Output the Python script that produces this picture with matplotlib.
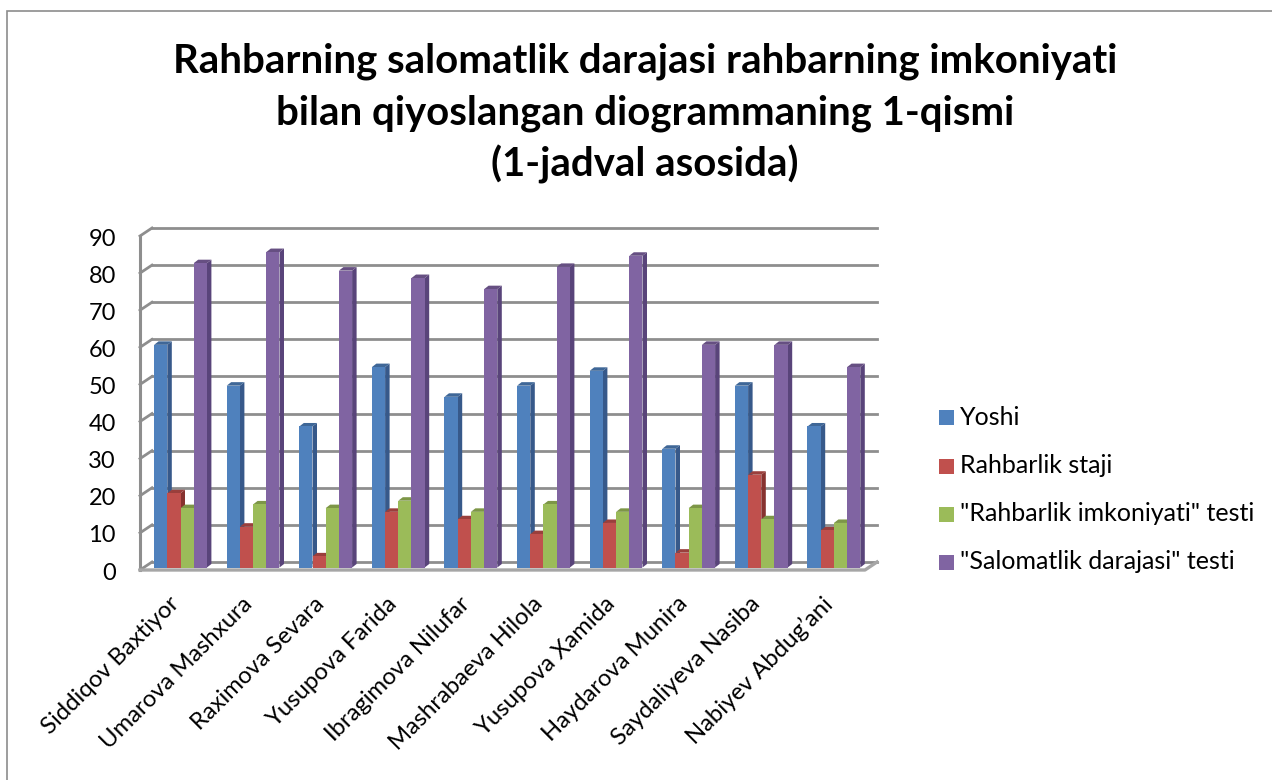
import matplotlib
matplotlib.use("Agg")
import matplotlib.pyplot as plt
from matplotlib.patches import Polygon, Rectangle
from matplotlib.lines import Line2D

plt.rcParams['font.family'] = ['Lato', 'DejaVu Sans']

names = ["Siddiqov Baxtiyor", "Umarova Mashxura", "Raximova Sevara", "Yusupova Farida",
         "Ibragimova Nilufar", "Mashrabaeva Hilola", "Yusupova Xamida", "Haydarova Munira",
         "Saydaliyeva Nasiba", "Nabiyev Abdug\u2019ani"]
yoshi = [60, 49, 38, 54, 46, 49, 53, 32, 49, 38]
staj = [20, 11, 3, 15, 13, 9, 12, 4, 25, 10]
imkoniyat = [16, 17, 16, 18, 15, 17, 15, 16, 13, 12]
salomatlik = [82, 85, 80, 78, 75, 81, 84, 60, 60, 54]
series = [("Yoshi", yoshi), ("Rahbarlik staji", staj),
          ('"Rahbarlik imkoniyati" testi', imkoniyat), ('"Salomatlik darajasi" testi', salomatlik)]
front = ['#4F81BD', '#C0504D', '#9BBB59', '#8064A2']
side = ['#37598A', '#87322F', '#6E8640', '#59447A']
top = ['#3F6797', '#9A3F3C', '#7D9647', '#664F82']
yticks = list(range(0, 100, 10))

W, H = 1272, 780
fig = plt.figure(figsize=(W / 100, H / 100), dpi=100)
fig.patch.set_facecolor('white')
fig.add_artist(Rectangle((6.5 / W, -0.01), 1.1, 1 - 11.5 / H + 0.01, transform=fig.transFigure,
                         fill=False, ec='#8C8C8C', lw=1.2))

L, R, T, B = 140, 865, 236, 570
ax = fig.add_axes([L / W, 1 - B / H, (R - L) / W, (B - T) / H])
px_x = 72.6
xmin = (L - 180.5) / px_x
ax.set_xlim(xmin, xmin + (R - L) / px_x)
ax.set_ylim(0, 90)
ax.axis('off')
ux = 1 / px_x
uy = 90 / (B - T)
clip = dict(clip_on=False)
grid = '#8E8E8E'
dx, dy = 12 * ux, 8 * uy
x0, x1 = ax.get_xlim()

# back wall / floor
for v in yticks:
    ax.add_line(Line2D([x0 + dx, x1 + dx], [v + dy, v + dy], color=grid, lw=2, zorder=1, **clip))
    ax.add_line(Line2D([x0, x0 + dx], [v, v + dy], color=grid, lw=2, zorder=1, **clip))
ax.add_line(Line2D([x0, x0], [0, 90], color=grid, lw=2.2, zorder=1, **clip))
ax.add_line(Line2D([x0, x1, x1 + dx], [0, 0, dy], color='#A6A6A6', lw=2.4, zorder=1, **clip))

# bars with side and top faces
bw = 13.2 * ux
bdx, bdy = 4.5 * ux, 3.5 * uy
lift = 2.5 * uy
for k, (lab, vals) in enumerate(series):
    for i, v in enumerate(vals):
        xl = i + (k - 2) * bw
        xr = xl + bw
        h = v + lift
        z = 3 + i * 10 + (k if k != 3 else 3)
        ax.add_patch(Polygon([(xr, lift), (xr + bdx, lift + bdy), (xr + bdx, h + bdy), (xr, h)],
                             fc=side[k], ec='none', zorder=z, **clip))
        ax.add_patch(Polygon([(xl, h), (xl + bdx, h + bdy), (xr + bdx, h + bdy), (xr, h)],
                             fc=top[k], ec='none', zorder=z, **clip))
        ax.bar(xl, v, width=bw, bottom=lift, align='edge', color=front[k], zorder=z + 0.5, **clip)

# tick labels
for v in yticks:
    ax.annotate(str(v), (x0, v), xytext=(-24, -3), textcoords='offset pixels',
                ha='right', va='center', fontsize=17, color='black', annotation_clip=False)
for i, n in enumerate(names):
    ax.annotate(n, (i, 0), xytext=(-12, -23), textcoords='offset pixels', rotation=45,
                rotation_mode='anchor', ha='right', va='top', fontsize=17.2, color='black',
                annotation_clip=False)

# title
for line, y in zip(["Rahbarning salomatlik darajasi rahbarning imkoniyati",
                    "bilan qiyoslangan diogrammaning 1-qismi", "(1-jadval asosida)"], [72, 124, 176]):
    fig.text(645 / W, 1 - y / H, line, ha='center', va='baseline', fontsize=28.9,
             fontweight='bold', color='black')

# legend
for (lab, _), c, y, b in zip(series, front, [410, 459, 507, 555], [425, 473, 521, 569]):
    fig.add_artist(Rectangle((939 / W, 1 - (y + 15) / H), 15 / W, 15 / H, transform=fig.transFigure,
                             fc=c, ec='none'))
    fig.text(960 / W, 1 - b / H, lab, ha='left', va='baseline', fontsize=18, color='black')

fig.savefig('out.png', dpi=100)
